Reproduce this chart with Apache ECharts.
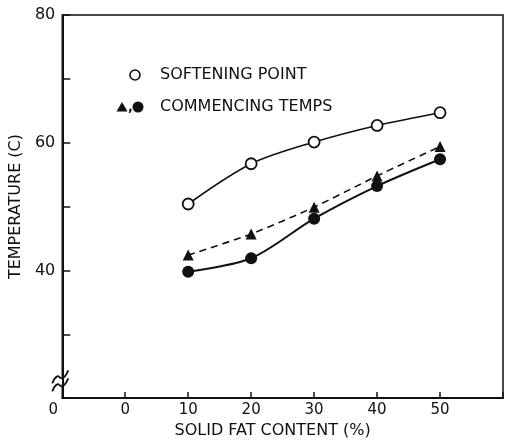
<!DOCTYPE html>
<html>
<head>
<meta charset="utf-8">
<script src="https://cdn.jsdelivr.net/npm/echarts@6/dist/echarts.min.js"></script>
<style>
html,body{margin:0;padding:0;background:#fff}
#chart{width:506px;height:444px}
</style>
</head>
<body>
<div id="chart"></div>
<script>
// solid fat content (%) on x
const fatContent = [10, 20, 30, 40, 50];
// temperatures (C)
const softeningPoint = [50.4, 56.7, 60.1, 62.7, 64.7];
const commencingTri = [42.4, 45.7, 49.9, 54.8, 59.4];
const commencingDot = [39.8, 41.9, 48.1, 53.2, 57.4];

const xTickValues = [-10, 0, 10, 20, 30, 40, 50];
const xTickLabels = ['0', '0', '10', '20', '30', '40', '50'];
const yTickValues = [40, 60, 80];
const yTickLabels = ['40', '60', '80'];

const font = 'DejaVu Sans';
const ink = '#111';

const myChart = echarts.init(document.getElementById('chart'));

const pairs = arr => fatContent.map((x, i) => [x, arr[i]]);

const option = {
    backgroundColor: '#fff',
    animation: false,
    grid: {
        left: 59, right: 3, top: 15, bottom: 41,
        show: true,
        borderColor: ink,
        borderWidth: 1.5,
        backgroundColor: 'transparent'
    },
    xAxis: {
        type: 'value',
        min: -10, max: 60, interval: 10,
        name: 'SOLID FAT CONTENT (%)',
        nameLocation: 'middle',
        nameGap: 24,
        nameTextStyle: {fontFamily: font, fontSize: 16, color: ink, padding: [0, 20, 0, 0]},
        splitLine: {show: false},
        axisLine: {onZero: false, lineStyle: {color: ink, width: 2}},
        axisTick: {inside: true, length: 6, lineStyle: {color: ink, width: 1.5}},
        axisLabel: {
            fontFamily: font, fontSize: 15, color: ink, margin: 5,
            showMinLabel: true, showMaxLabel: true,
            formatter: v => {
                const i = xTickValues.indexOf(v);
                if (i < 0) return '';
                return v === -10 ? '{o|' + xTickLabels[i] + '}' : xTickLabels[i];
            },
            rich: {o: {fontFamily: font, fontSize: 15, color: ink, padding: [0, 18, 0, 0]}}
        }
    },
    yAxis: {
        type: 'value',
        min: 20, max: 80, interval: 10,
        name: 'TEMPERATURE (C)',
        nameLocation: 'middle',
        nameRotate: 90,
        nameGap: 35,
        nameTextStyle: {fontFamily: font, fontSize: 16, color: ink},
        splitLine: {show: false},
        axisLine: {onZero: false, lineStyle: {color: ink, width: 2}},
        axisTick: {inside: true, length: 8, lineStyle: {color: ink, width: 1.5}},
        axisLabel: {
            fontFamily: font, fontSize: 16, color: ink, margin: 7,
            formatter: v => {
                const i = yTickValues.indexOf(v);
                return i < 0 ? '' : yTickLabels[i];
            }
        }
    },
    series: [
        {
            name: 'SOFTENING POINT',
            type: 'line',
            data: pairs(softeningPoint),
            smooth: 0.3,
            symbol: 'circle',
            symbolSize: 11,
            lineStyle: {color: ink, width: 1.6},
            itemStyle: {color: '#fff', borderColor: ink, borderWidth: 1.8}
        },
        {
            name: 'COMMENCING TEMPS (triangle)',
            type: 'line',
            data: pairs(commencingTri),
            smooth: 0.2,
            symbol: 'triangle',
            symbolSize: 11,
            lineStyle: {color: ink, width: 1.6, type: [7, 5]},
            itemStyle: {color: ink}
        },
        {
            name: 'COMMENCING TEMPS (dot)',
            type: 'line',
            data: pairs(commencingDot),
            smooth: 0.3,
            symbol: 'circle',
            symbolSize: 12,
            lineStyle: {color: ink, width: 2},
            itemStyle: {color: ink}
        }
    ],
    graphic: [
        // legend
        {type: 'circle', shape: {cx: 135, cy: 75, r: 5}, style: {fill: '#fff', stroke: ink, lineWidth: 1.6}},
        {type: 'text', x: 160, y: 75, style: {text: 'SOFTENING POINT', font: '16px "DejaVu Sans"', fill: ink, verticalAlign: 'middle'}},
        {type: 'polygon', shape: {points: [[122, 102], [116.5, 111.5], [127.5, 111.5]]}, style: {fill: ink}},
        {type: 'text', x: 128, y: 114, style: {text: ',', font: 'bold 13px "DejaVu Sans"', fill: ink, verticalAlign: 'bottom'}},
        {type: 'circle', shape: {cx: 138, cy: 107, r: 5.5}, style: {fill: ink}},
        {type: 'text', x: 160, y: 107, style: {text: 'COMMENCING TEMPS', font: '16px "DejaVu Sans"', fill: ink, verticalAlign: 'middle'}}
    ]
};
myChart.setOption(option);

// axis break mark on the y axis, near the bottom
const bx = myChart.convertToPixel({xAxisIndex: 0}, -10);
const by = myChart.convertToPixel({yAxisIndex: 0}, 22);
const wave = dy => ({
    type: 'polyline',
    shape: {points: [[bx - 10, by + dy + 6], [bx - 5, by + dy - 1], [bx, by + dy + 1], [bx + 6, by + dy - 7]], smooth: 0.5},
    style: {stroke: ink, lineWidth: 1.8, fill: null}
});
myChart.setOption({graphic: option.graphic.concat([
    {type: 'rect', shape: {x: bx - 2, y: by - 7, width: 4, height: 6}, style: {fill: '#fff'}},
    wave(-8), wave(0)
])});
</script>
</body>
</html>
